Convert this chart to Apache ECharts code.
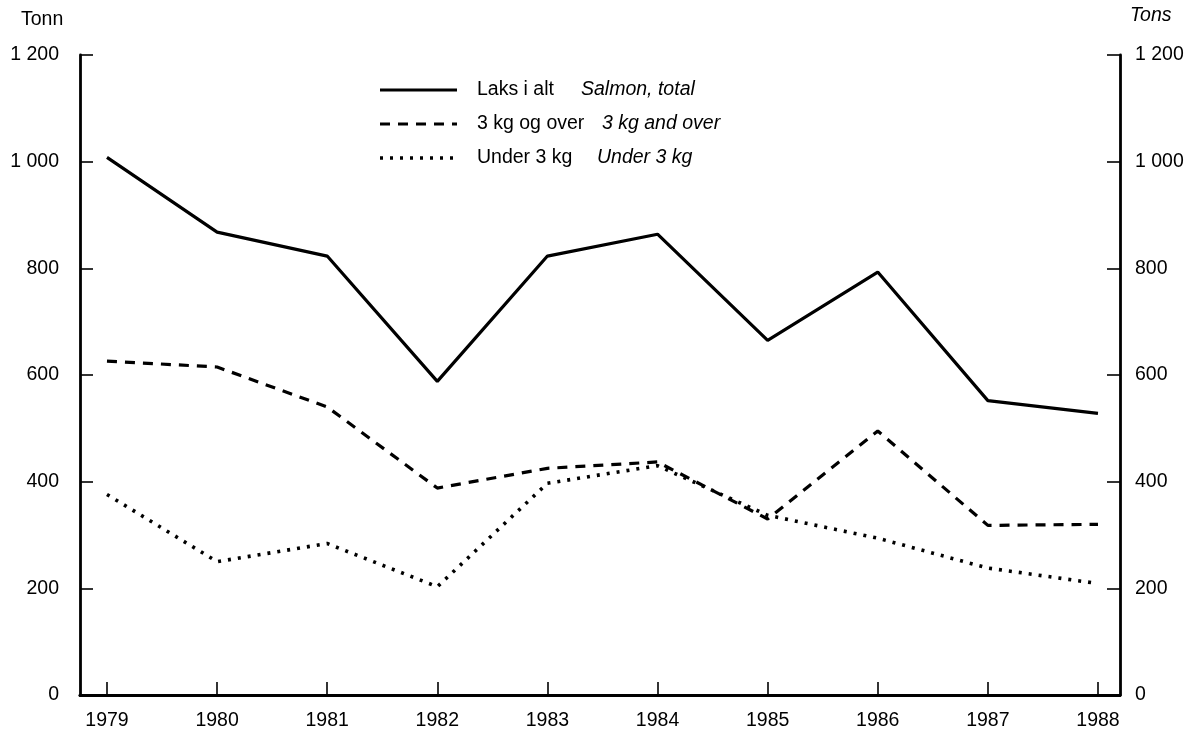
<!DOCTYPE html>
<html>
<head>
<meta charset="utf-8">
<script src="https://cdn.jsdelivr.net/npm/echarts@6/dist/echarts.min.js"></script>
<style>
html,body{margin:0;padding:0;background:#fff;}
#c{width:1191px;height:732px;}
</style>
</head>
<body>
<div id="c"></div>
<script>
const years = [1979, 1980, 1981, 1982, 1983, 1984, 1985, 1986, 1987, 1988];
const total = [1008, 868, 823, 588, 823, 864, 665, 793, 552, 528];
const over3 = [626, 615, 540, 388, 425, 437, 330, 495, 318, 320];
const under3 = [376, 250, 284, 203, 397, 430, 337, 294, 238, 209];
const yTicks = [0, 200, 400, 600, 800, 1000, 1200];
const seriesNames = ['Laks i alt', '3 kg og over', 'Under 3 kg'];
const seriesNamesEn = ['Salmon, total', '3 kg and over', 'Under 3 kg'];

const font = 'Liberation Sans, Arial, Helvetica, sans-serif';
const fs = 19.5;
const fmt = v => String(v).replace(/\B(?=(\d{3})+(?!\d))/g, ' ');
const pairs = arr => years.map((y, i) => [y, arr[i]]);

const styles = [
  {width: 3.2, type: 'solid', dash: null},
  {width: 3.2, type: [10, 8], dash: [10, 8]},
  {width: 3.6, type: [3, 7], dash: [3, 7]}
];

const chart = echarts.init(document.getElementById('c'), null, {renderer: 'canvas'});
const axisLine = {show: true, lineStyle: {color: '#000', width: 2.8}};

// legend drawn as graphic elements
const legendRowY = [90, 124, 158];
const enX = [581, 602, 597];
const legendGraphics = [];
seriesNames.forEach((n, i) => {
  legendGraphics.push({
    type: 'line', silent: true,
    shape: {x1: 380, y1: legendRowY[i], x2: 457, y2: legendRowY[i]},
    style: {stroke: '#000', lineWidth: styles[i].width, lineDash: styles[i].dash}
  });
  legendGraphics.push({
    type: 'text', x: 477, y: legendRowY[i],
    style: {text: n, font: fs + 'px ' + font, fill: '#000', verticalAlign: 'middle'}
  });
  legendGraphics.push({
    type: 'text', x: enX[i], y: legendRowY[i],
    style: {text: seriesNamesEn[i], font: 'italic ' + fs + 'px ' + font, fill: '#000', verticalAlign: 'middle'}
  });
});

const option = {
  backgroundColor: '#fff',
  animation: false,
  textStyle: {fontFamily: font, color: '#000'},
  grid: {left: 80, right: 71, top: 55, bottom: 37, containLabel: false},
  graphic: [
    {type: 'text', x: 21, y: 20, style: {text: 'Tonn', font: fs + 'px ' + font, fill: '#000', verticalAlign: 'middle'}},
    {type: 'text', x: 1130, y: 16, style: {text: 'Tons', font: 'italic ' + fs + 'px ' + font, fill: '#000', verticalAlign: 'middle'}}
  ].concat(legendGraphics),
  xAxis: [{
    type: 'value',
    min: 1978.755,
    max: 1988.2,
    splitLine: {show: false},
    axisLine: axisLine,
    axisTick: {show: true, inside: true, length: 13, lineStyle: {color: '#000', width: 1.6}, customValues: years},
    axisLabel: {show: true, customValues: years, color: '#000', fontSize: fs, fontFamily: font, margin: 16, formatter: v => String(v)}
  }, {
    type: 'value',
    position: 'top',
    min: 1978.755,
    max: 1988.2,
    splitLine: {show: false},
    axisLine: axisLine,
    axisTick: {show: false},
    axisLabel: {show: false}
  }],
  yAxis: [{
    type: 'value',
    min: 0, max: 1200, interval: 200,
    splitLine: {show: false},
    axisLine: axisLine,
    axisTick: {show: true, inside: true, length: 13, lineStyle: {color: '#000', width: 1.6}},
    axisLabel: {color: '#000', fontSize: fs, fontFamily: font, margin: 21, formatter: v => fmt(v)}
  }, {
    type: 'value',
    position: 'right',
    min: 0, max: 1200, interval: 200,
    splitLine: {show: false},
    axisLine: axisLine,
    axisTick: {show: true, inside: true, length: 13, lineStyle: {color: '#000', width: 1.6}},
    axisLabel: {color: '#000', fontSize: fs, fontFamily: font, margin: 15, formatter: v => fmt(v)}
  }],
  series: [
    {name: seriesNames[0], type: 'line', data: pairs(total), symbol: 'none',
      lineStyle: {color: '#000', width: styles[0].width, type: styles[0].type}, itemStyle: {color: '#000'}},
    {name: seriesNames[1], type: 'line', data: pairs(over3), symbol: 'none',
      lineStyle: {color: '#000', width: styles[1].width, type: styles[1].type}, itemStyle: {color: '#000'}},
    {name: seriesNames[2], type: 'line', data: pairs(under3), symbol: 'none',
      lineStyle: {color: '#000', width: styles[2].width, type: styles[2].type}, itemStyle: {color: '#000'}}
  ]
};
chart.setOption(option);
</script>
</body>
</html>
